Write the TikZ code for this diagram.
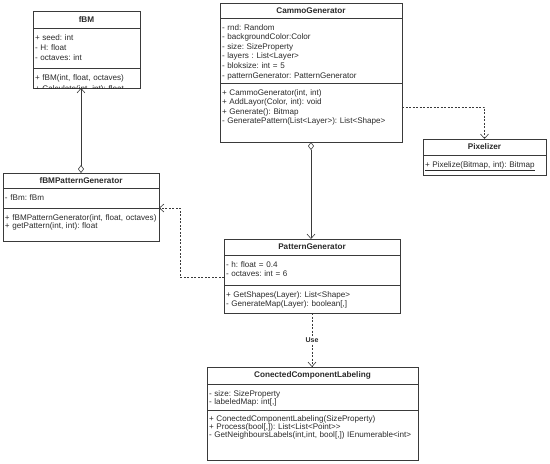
\documentclass[tikz,border=0pt]{standalone}
\usepackage{fontspec}
\setmainfont{Liberation Sans}
\usepackage{tikz}
\usetikzlibrary{arrows.meta,positioning}
\definecolor{UmlLine}{HTML}{3A3A3A}
\definecolor{UmlText}{HTML}{2A2A2A}
\frenchspacing

\begin{document}
\begin{tikzpicture}[
  x=1pt,y=-1pt,
  classname/.style={draw=UmlLine,line width=0.6pt,anchor=north west,inner sep=0pt,outer sep=0pt,text=UmlText,font=\fontsize{8.2}{9}\selectfont\bfseries},
  members/.style={draw=UmlLine,line width=0.6pt,align=left,inner xsep=2pt,inner ysep=3pt,outer sep=0pt,text height=9pt,text=UmlText,font=\fontsize{8.1}{9.6}\selectfont},
  tight/.style={font=\fontsize{8.1}{8}\selectfont},
  aggr/.style={{Diamond[open,length=8pt,width=6pt]}-{Straight Barb[length=4.5pt,width=8pt]},line width=0.6pt,draw=UmlLine},
  dep/.style={-{Straight Barb[length=4.5pt,width=8pt]},dash pattern=on 2pt off 1.5pt,line width=0.6pt,draw=UmlLine},
  uselabel/.style={fill=white,inner sep=1pt,text=UmlText,font=\fontsize{7}{8}\selectfont\bfseries}
]
  \useasboundingbox (0,0) rectangle (550,464);

  % fBM (cut off at the bottom)
  \node[classname,minimum width=107pt,minimum height=17pt] (fbmT) at (33,11) {fBM};
  \node[members,text width=103pt,text depth=25pt,below=0pt of fbmT,font=\fontsize{8.1}{10}\selectfont] (fbmA) {+ seed: int\\- H: float\\- octaves: int};
  \begin{scope}
    \clip ([xshift=-1pt]fbmA.south west) rectangle ([xshift=1pt,yshift=-20.3pt]fbmA.south east);
    \node[members,text width=103pt,text depth=5pt,below=0pt of fbmA,font=\fontsize{8.1}{11.5}\selectfont] (fbmM) {+ fBM(int, float, octaves)\\+ Calculate(int, int): float};
  \end{scope}

  % CammoGenerator
  \node[classname,minimum width=182pt,minimum height=15pt] (camT) at (220,3) {CammoGenerator};
  \node[members,text width=178pt,text depth=50pt,below=0pt of camT] (camA) {- rnd: Random\\- backgroundColor:Color\\- size: SizeProperty\\- layers : List<Layer>\\- bloksize: int = 5\\- patternGenerator: PatternGenerator};
  \node[members,text width=178pt,text depth=44pt,below=0pt of camA] (camM) {+ CammoGenerator(int, int)\\+ AddLayor(Color, int): void\\+ Generate(): Bitmap\\- GeneratePattern(List<Layer>): List<Shape>};

  % Pixelizer
  \node[classname,minimum width=123pt,minimum height=16pt] (pixT) at (423,139) {Pixelizer};
  \node[members,text width=119pt,text depth=5pt,below=0pt of pixT] (pixM) {\underline{+ Pixelize(Bitmap, int): Bitmap}};

  % fBMPatternGenerator
  \node[classname,minimum width=156pt,minimum height=15pt] (fbmpT) at (3,173) {fBMPatternGenerator};
  \node[members,text width=152pt,text depth=5pt,below=0pt of fbmpT] (fbmpA) {- fBm: fBm};
  \node[members,tight,text width=152pt,text depth=18pt,below=0pt of fbmpA] (fbmpM) {+ fBMPatternGenerator(int, float, octaves)\\+ getPattern(int, int): float};

  % PatternGenerator
  \node[classname,minimum width=176pt,minimum height=16pt] (pgT) at (224,239) {PatternGenerator};
  \node[members,text width=172pt,text depth=15pt,below=0pt of pgT] (pgA) {- h: float = 0.4\\- octaves: int = 6};
  \node[members,text width=172pt,text depth=13pt,below=0pt of pgA] (pgM) {+ GetShapes(Layer): List<Shape>\\- GenerateMap(Layer): boolean[,]};

  % ConectedComponentLabeling
  \node[classname,minimum width=211pt,minimum height=17pt] (cclT) at (207,367) {ConectedComponentLabeling};
  \node[members,tight,text width=207pt,text depth=11pt,below=0pt of cclT] (cclA) {- size: SizeProperty\\- labeledMap: int[,]};
  \node[members,tight,text height=8pt,text width=207pt,text depth=36pt,below=0pt of cclA] (cclM) {+ ConectedComponentLabeling(SizeProperty)\\+ Process(bool[,]): List<List<Point>{}>\\- GetNeighboursLabels(int,int, bool[,]) IEnumerable<int>};

  % relations
  \draw[aggr] (fbmpT.north) -- (fbmpT.north |- fbmM.south);
  \draw[aggr] (camM.south) -- (camM.south |- pgT.north);
  \draw[dep] ([yshift=5.5pt]camM.east) -| (pixT.north);
  \draw[dep] ([yshift=-7pt]pgA.west) -| ([xshift=21pt]fbmpA.south east) -- (fbmpA.south east);
  \draw[dep] (pgM.south) -- node[uselabel] {Use} (pgM.south |- cclT.north);
\end{tikzpicture}
\end{document}
